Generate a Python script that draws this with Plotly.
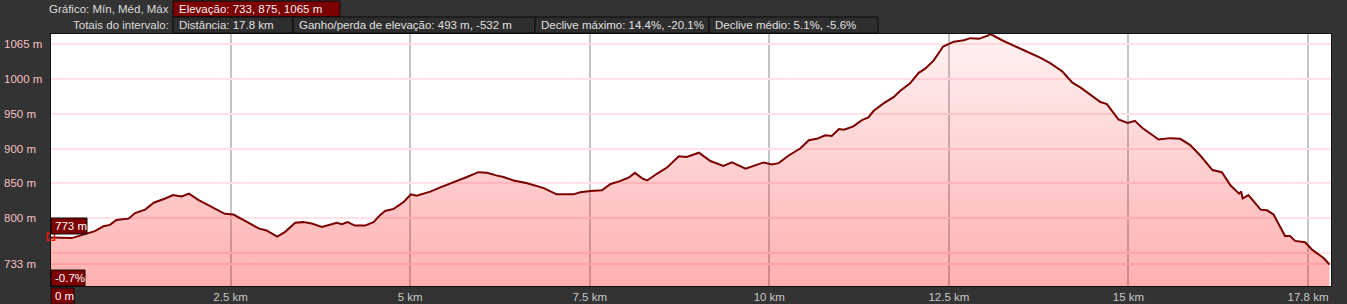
import plotly.graph_objects as go

# ---- data ----
dist_km = [0.00, 0.29, 0.61, 0.73, 0.82, 0.91, 1.08, 1.17, 1.31, 1.43, 1.59, 1.70, 1.82, 1.92,
           2.05, 2.24, 2.42, 2.54, 2.70, 2.89, 3.00, 3.15, 3.26, 3.40, 3.51, 3.63, 3.77, 3.86,
           3.98, 4.05, 4.13, 4.23, 4.37, 4.49, 4.58, 4.65, 4.77, 4.91, 5.01, 5.09, 5.28, 5.42,
           5.60, 5.79, 5.95, 6.07, 6.21, 6.30, 6.44, 6.63, 6.86, 7.04, 7.27, 7.37, 7.51, 7.67,
           7.79, 7.92, 8.04, 8.13, 8.23, 8.30, 8.44, 8.58, 8.74, 8.85, 9.02, 9.18, 9.36, 9.48,
           9.67, 9.78, 9.92, 10.04, 10.13, 10.27, 10.43, 10.55, 10.66, 10.78, 10.87, 10.97,
           11.04, 11.17, 11.29, 11.38, 11.45, 11.59, 11.73, 11.82, 11.96, 12.08, 12.17, 12.29,
           12.42, 12.57, 12.71, 12.80, 12.92, 13.05, 13.08, 13.24, 13.42, 13.62, 13.77, 13.91,
           14.08, 14.22, 14.33, 14.47, 14.61, 14.70, 14.86, 14.99, 15.09, 15.19, 15.33, 15.42,
           15.58, 15.72, 15.86, 16.00, 16.17, 16.30, 16.42, 16.54, 16.57, 16.59, 16.67, 16.84,
           16.93, 17.02, 17.18, 17.25, 17.32, 17.46, 17.56, 17.72, 17.80]
elev_m = [772, 771, 781, 788, 790, 797, 799, 807, 812, 822, 828, 833, 831, 835,
          826, 816, 806, 805, 796, 785, 782, 773, 780, 793, 794, 792, 787, 790,
          793, 791, 794, 789, 789, 794, 804, 810, 813, 823, 834, 832, 838, 844,
          851, 859, 866, 865, 861, 859, 854, 850, 843, 834, 834, 837, 839, 840,
          849, 853, 858, 865, 857, 854, 864, 873, 889, 888, 894, 882, 875, 880,
          871, 875, 880, 877, 879, 890, 900, 912, 914, 919, 918, 928,
          927, 932, 941, 945, 954, 965, 974, 983, 994, 1009, 1015, 1027,
          1047, 1054, 1056, 1059, 1058, 1063, 1065, 1056, 1047, 1038, 1031, 1023,
          1011, 995, 988, 978, 967, 964, 942, 937, 940, 930, 919, 913,
          915, 914, 905, 890, 869, 866, 847, 835, 838, 828, 833, 812,
          811, 805, 774, 774, 767, 765, 754, 742, 733]

x_tickvals = [2.5, 5, 7.5, 10, 12.5, 15, 17.5]
x_ticktext = ["2.5 km", "5 km", "7.5 km", "10 km", "12.5 km", "15 km", "17.8 km"]
y_tickvals = [733, 750, 800, 850, 900, 950, 1000, 1050]
y_ticktext = ["733 m", "", "800 m", "850 m", "900 m", "950 m", "1000 m", "1065 m"]

header_row1_label = "Gráfico: Mín, Méd, Máx"
header_row1_box = "Elevação: 733, 875, 1065 m"
header_row2_label = "Totais do intervalo:"
header_row2_boxes = ["Distância: 17.8 km", "Ganho/perda de elevação: 493 m, -532 m",
                     "Declive máximo: 14.4%, -20.1%", "Declive médio: 5.1%, -5.6%"]
start_elev_label = "773 m"
start_grade_label = "-0.7%"
start_dist_label = "0 m"

# ---- layout geometry (pixels) ----
W_FIG, H_FIG = 1347, 304
PL, PR, PT, PB = 51, 1331, 34, 286
PW, PH = PR - PL, PB - PT


def px(x):
    return (x - PL) / PW


def py(y):
    return (PB - y) / PH


FONT = "Liberation Sans, Arial, sans-serif"
FS = 11.5

fig = go.Figure()
fig.add_trace(go.Scatter(
    x=dist_km, y=elev_m, mode="lines",
    line=dict(color="#7a0000", width=2),
    fill="tozeroy",
    fillgradient=dict(type="vertical", start=702, stop=1065,
                      colorscale=[[0, "rgba(255,0,0,0.31)"], [1, "rgba(255,0,0,0.05)"]]),
    hoverinfo="skip", showlegend=False,
))
fig.add_trace(go.Scatter(
    x=[dist_km[0]], y=[elev_m[0] + 1], mode="markers",
    marker=dict(symbol="square-open", size=7, color="#ff1010", line=dict(width=1.5, color="#ff1010")),
    cliponaxis=False, showlegend=False, hoverinfo="skip",
))

shapes = []
annotations = []


def box(x0, x1, y0, y1, fill, text, color="#e0e0e0", pad=4):
    shapes.append(dict(type="rect", xref="paper", yref="paper",
                       x0=px(x0), x1=px(x1), y0=py(y1), y1=py(y0),
                       fillcolor=fill, line=dict(color="#0a0a0a", width=1), layer="above"))
    annotations.append(dict(xref="paper", yref="paper", x=px(x0 + pad), y=py((y0 + y1) / 2),
                            xanchor="left", yanchor="middle", showarrow=False, text=text,
                            font=dict(family=FONT, size=FS, color=color)))


def label(xr, yc, text, color="#dcdcdc"):
    annotations.append(dict(xref="paper", yref="paper", x=px(xr), y=py(yc),
                            xanchor="right", yanchor="middle", showarrow=False, text=text,
                            font=dict(family=FONT, size=FS, color=color)))


# header
label(171, 9, header_row1_label)
box(173, 340, 1, 17, "#7c0000", header_row1_box, color="#f0f0f0")
label(171, 25, header_row2_label)
edges = [173, 293, 535, 709, 878]
for i, t in enumerate(header_row2_boxes):
    box(edges[i], edges[i + 1], 17, 33, "#2e2e2e", t)

# y-axis labels: left-aligned against the figure edge, positioned on the y scale
for v, t in zip(y_tickvals, y_ticktext):
    if t:
        annotations.append(dict(xref="paper", yref="y", x=px(2), y=v,
                                xanchor="left", yanchor="middle", showarrow=False, text=t,
                                font=dict(family=FONT, size=FS, color="#f4c0c0")))

# start markers
box(51, 87, 218, 234, "#7c0000", start_elev_label, color="#ffffff", pad=2)
box(51, 85, 270, 286, "#7c0000", start_grade_label, color="#ffffff", pad=2)
box(51, 74, 288, 304, "#7c0000", start_dist_label, color="#ffffff", pad=2)

fig.update_layout(
    width=W_FIG, height=H_FIG,
    margin=dict(l=PL, r=W_FIG - PR, t=PT, b=H_FIG - PB, pad=0, autoexpand=False),
    paper_bgcolor="#333333", plot_bgcolor="#ffffff",
    font=dict(family=FONT, size=FS),
    shapes=shapes, annotations=annotations,
    xaxis=dict(range=[0, 17.82], tickvals=x_tickvals, ticktext=x_ticktext,
               showgrid=True, gridcolor="#c4c4c4", gridwidth=2, zeroline=False,
               ticks="", tickfont=dict(color="#c8c8c8", size=FS, family=FONT),
               showline=True, linecolor="#111111", linewidth=1, mirror=True,
               ticklabelstandoff=0, automargin=False, fixedrange=True),
    yaxis=dict(range=[702, 1065], tickvals=y_tickvals, ticktext=y_ticktext,
               showgrid=True, gridcolor="#ffe2e6", gridwidth=2, zeroline=False,
               ticks="", showticklabels=False,
               showline=True, linecolor="#111111", linewidth=1, mirror=True,
               automargin=False, fixedrange=True),
)

fig.write_html("out.html", config={"displayModeBar": False})
